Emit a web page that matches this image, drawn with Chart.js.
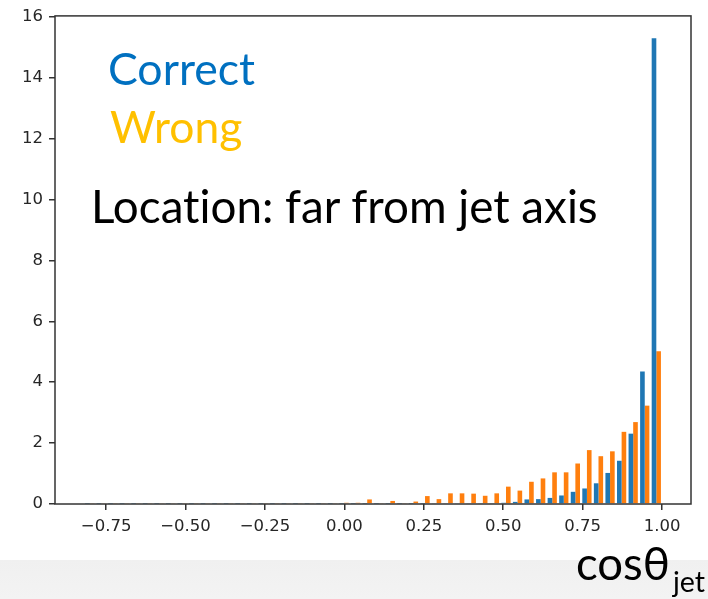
<!DOCTYPE html>
<html><head><meta charset="utf-8">
<script src="https://cdn.jsdelivr.net/npm/chart.js@4"></script>
<style>
html,body{margin:0;padding:0;background:#fff;}
#wrap{position:relative;width:708px;height:599px;overflow:hidden;background:#fff;}
#band{position:absolute;left:0;top:560px;width:708px;height:39px;background:linear-gradient(#f0f0f0,#f3f3f3);}
canvas{position:absolute;left:0;top:0;}
.t{position:absolute;white-space:nowrap;font-family:Lato,sans-serif;margin:0;padding:0;font-variant-ligatures:none;font-feature-settings:"liga" 0;}
</style></head>
<body>
<div id="wrap">
<div id="band"></div>
<canvas id="c" width="708" height="599"></canvas>
<div class="t" id="tCorrect" style="color:#0070C0">Correct</div>
<div class="t" id="tWrong" style="color:#FFC000">Wrong</div>
<div class="t" id="tLoc" style="color:#000">Location: far from jet axis</div>
<div id="tAxis"><span class="t" id="tCos" style="color:#000">cosθ</span><span class="t" id="tJet" style="color:#000">jet</span></div>
</div>
<script>
// Histogram bins (cosθ_jet), 50 equal bins
const binLow = -0.82;
const binHigh = 1.0;
const nBins = 50;
// Series values (density) per bin
const correctVals = [
  0.01,0.01,0.01,0.01,0.01,0.01,0.01,0.01,0.01,0.01,
  0.01,0.01,0.01,0.01,0.01,0.01,0.01,0.01,0.01,0.01,
  0.01,0.01,0.01,0.01,0.01,0.01,0.01,0.01,0.01,0.01,
  0.02,0.02,0.02,0.02,0.02,0.03,0.04,0.07,0.15,0.16,
  0.20,0.28,0.40,0.51,0.68,1.02,1.42,2.31,4.35,15.3
];
const wrongVals = [
  0.03,0.02,0.03,0.02,0.03,0.03,0.02,0.02,0.03,0.03,
  0.02,0.03,0.03,0.03,0.02,0.03,0.03,0.02,0.03,0.03,
  0.03,0.02,0.04,0.04,0.15,0.03,0.10,0.03,0.08,0.26,
  0.16,0.35,0.35,0.34,0.27,0.35,0.57,0.44,0.73,0.84,
  1.04,1.04,1.33,1.77,1.57,1.73,2.37,2.69,3.23,5.02
];
const xTicks = [-0.75,-0.5,-0.25,0,0.25,0.5,0.75,1.0];
const yTicks = [0,2,4,6,8,10,12,14,16];

const binW = (binHigh - binLow) / nBins;
const centers = [];
for (let i = 0; i < nBins; i++) centers.push(binLow + binW * (i + 0.5));

const frame = {
  id: 'frame',
  afterDatasetsDraw(chart) {
    const {ctx, chartArea: a} = chart;
    ctx.save();
    ctx.strokeStyle = '#333';
    ctx.lineWidth = 1.5;
    ctx.strokeRect(a.left, a.top, a.right - a.left, a.bottom - a.top);
    ctx.restore();
  }
};

const fmtX = v => (v < 0 ? '\u2212' : '') + Math.abs(v).toFixed(2);

new Chart(document.getElementById('c'), {
  type: 'bar',
  data: {
    datasets: [
      { label: 'Correct', data: centers.map((c, i) => ({x: c, y: correctVals[i]})),
        backgroundColor: '#1f77b4', borderWidth: 0, categoryPercentage: 0.8, barPercentage: 1.0 },
      { label: 'Wrong', data: centers.map((c, i) => ({x: c, y: wrongVals[i]})),
        backgroundColor: '#ff7f0e', borderWidth: 0, categoryPercentage: 0.8, barPercentage: 1.0 }
    ]
  },
  options: {
    responsive: false,
    animation: false,
    layout: { padding: { left: 0, top: 14, right: 17, bottom: 0 } },
    plugins: { legend: { display: false }, tooltip: { enabled: false } },
    scales: {
      x: {
        type: 'linear', min: -0.911, max: 1.091, offset: false,
        afterBuildTicks: s => { s.ticks = xTicks.map(v => ({value: v})); },
        afterFit: s => { s.height = 95; },
        grid: { display: true, offset: false, drawOnChartArea: false, drawTicks: true, tickLength: 6, color: '#333', lineWidth: 1.5 },
        border: { display: false },
        ticks: { callback: v => fmtX(v), color: '#262626', font: { family: 'DejaVu Sans', size: 16.5 }, padding: 7, maxRotation: 0, autoSkip: false }
      },
      y: {
        min: 0, max: 16.03,
        afterBuildTicks: s => { s.ticks = yTicks.map(v => ({value: v})); },
        afterFit: s => { s.width = 55; },
        grid: { display: true, offset: false, drawOnChartArea: false, drawTicks: true, tickLength: 6, color: '#333', lineWidth: 1.5 },
        border: { display: false },
        ticks: { callback: v => String(v), color: '#262626', font: { family: 'DejaVu Sans', size: 16.5 }, padding: 6, autoSkip: false }
      }
    }
  },
  plugins: [frame]
});

// Place annotation texts by ink left edge, baseline and ink width
function place(id, left, baseline, width, family) {
  const el = document.getElementById(id);
  const text = el.textContent;
  const ctx = document.createElement('canvas').getContext('2d');
  ctx.font = '100px ' + family;
  const m = ctx.measureText(text);
  const fs = 100 * width / (m.actualBoundingBoxRight + m.actualBoundingBoxLeft);
  ctx.font = fs + 'px ' + family;
  const m2 = ctx.measureText(text);
  const asc = m2.fontBoundingBoxAscent, desc = m2.fontBoundingBoxDescent;
  el.style.fontSize = fs + 'px';
  el.style.lineHeight = (asc + desc) + 'px';
  el.style.left = (left + m2.actualBoundingBoxLeft) + 'px';
  el.style.top = (baseline - asc) + 'px';
}
const F = 'Lato';
place('tCorrect', 110, 85, 145, F);
place('tWrong', 110, 143, 131, F);
place('tLoc', 95, 223, 503, F);
place('tCos', 577, 580, 90, F);
place('tJet', 671, 592, 33, F);
</script>
</body></html>
